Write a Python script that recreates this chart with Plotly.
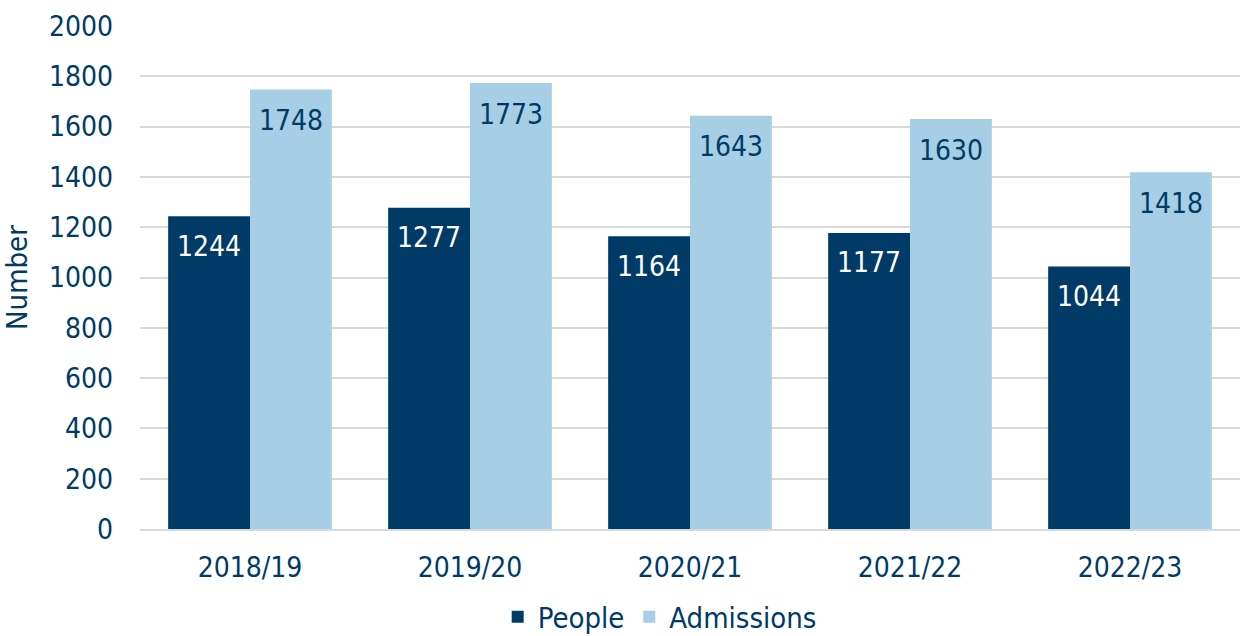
import plotly.graph_objects as go

years = ["2018/19", "2019/20", "2020/21", "2021/22", "2022/23"]
people = [1244, 1277, 1164, 1177, 1044]
admissions = [1748, 1773, 1643, 1630, 1418]

dark = "#003a66"
light = "#a6cee4"
font_family = "DejaVu Sans Condensed, Tahoma, Verdana, sans-serif"

fig = go.Figure()
fig.add_trace(go.Bar(name="People", x=years, y=people, marker_color=dark,
                     marker_line_width=0))
fig.add_trace(go.Bar(name="Admissions", x=years, y=admissions, marker_color=light,
                     marker_line_width=0))

# value labels placed just below each bar top
for i, (p, a) in enumerate(zip(people, admissions)):
    fig.add_annotation(x=i, xshift=-41, y=p, yshift=-30, text=str(p), showarrow=False,
                       font=dict(size=28, color="white", family=font_family))
    fig.add_annotation(x=i, xshift=41, y=a, yshift=-31, text=str(a), showarrow=False,
                       font=dict(size=28, color=dark, family=font_family))

fig.update_layout(
    width=1240, height=636,
    margin=dict(l=140, r=0, t=26, b=107, autoexpand=False),
    paper_bgcolor="white", plot_bgcolor="white",
    barmode="group", bargap=0.256, bargroupgap=0,
    font=dict(family=font_family, color=dark, size=28),
    showlegend=True,
    legend=dict(orientation="h", xref="container", x=0.532, xanchor="center",
                yref="container", y=0.03, yanchor="middle",
                font=dict(size=29, color=dark), traceorder="normal"),
    xaxis=dict(showgrid=False, tickfont=dict(size=28, color=dark), ticks="",
               ticklabelstandoff=12, automargin=False,
               showline=True, linecolor="#d9d9d9", linewidth=2),
    yaxis=dict(range=[0, 2000], dtick=200, showgrid=True, gridcolor="#d9d9d9",
               gridwidth=2, zeroline=False, ticks="", automargin=False,
               ticklabelstandoff=26,
               tickfont=dict(size=28, color=dark),
               title=dict(text="Number", font=dict(size=29, color=dark), standoff=12)),
)

fig.write_html("out.html")
